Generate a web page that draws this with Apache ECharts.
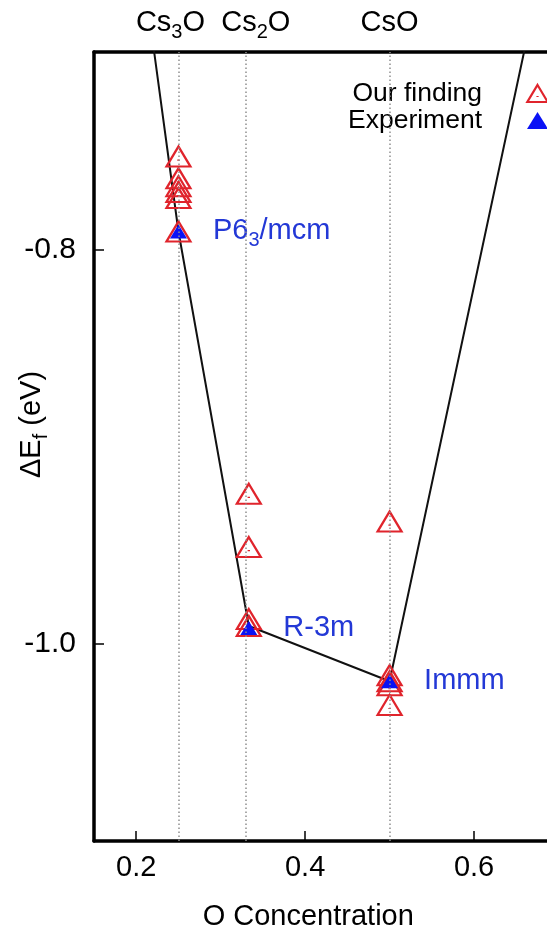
<!DOCTYPE html>
<html>
<head>
<meta charset="utf-8">
<script src="https://cdn.jsdelivr.net/npm/echarts@6/dist/echarts.min.js"></script>
<style>
  html, body { margin: 0; padding: 0; background: #ffffff; }
  #chart { width: 547px; height: 928px; }
</style>
</head>
<body>
<div id="chart"></div>
<script>
// Formation energies (eV/atom) of Cs–O structures versus oxygen concentration
const findingX = [0.25, 0.25, 0.25, 0.25, 0.25, 0.25,
                  0.3333, 0.3333, 0.3333, 0.3333,
                  0.5, 0.5, 0.5, 0.5, 0.5];
const findingY = [-0.753, -0.764, -0.768, -0.771, -0.774, -0.791,
                  -0.924, -0.951, -0.9875, -0.991,
                  -0.938, -1.016, -1.019, -1.021, -1.031];
const experimentX = [0.25, 0.3333, 0.5];
const experimentY = [-0.791, -0.992, -1.019];
const experimentLabels = ['P6{s|3}/mcm', 'R-3m', 'Immm'];
// Convex hull vertices
const hullX = [0, 0.25, 0.3333, 0.5, 0.6667];
const hullY = [0, -0.791, -0.991, -1.019, -0.685];
// Reference compounds marked on the top axis
const compoundX = [0.25, 0.3333, 0.5];
const compoundLabels = ['Cs{s|3}O', 'Cs{s|2}O', 'CsO'];
const xTicks = [0.2, 0.4, 0.6];
const yTicks = [-1.0, -0.8];

const FONT = 'Liberation Sans, Arial, Helvetica, sans-serif';
const RED = '#e0242c';
const BLUE = '#0a12f5';
const LABEL_BLUE = '#2338d6';
const AXIS_W = 3.5;

const zip = (xs, ys) => xs.map((x, i) => [x, ys[i]]);

// open triangle with a small centre dot
const openTriangle = 'path://M12,0L24,20L0,20Z M12,13L12,14.2';

const subRich = {
  s: { fontSize: 20, lineHeight: 20, padding: [18, 0, 0, 0], fontFamily: FONT },
  g: { width: 16 },
  h: { width: 14 }
};

function nearestIndex(arr, v) {
  let best = 0;
  arr.forEach((a, i) => { if (Math.abs(a - v) < Math.abs(arr[best] - v)) best = i; });
  return best;
}

// top axis carrying compound names; the close-lying names sit on two
// overlaid axes so neither gets dropped for overlapping its neighbour
function compoundAxis(values, showLine) {
  return {
    type: 'value', position: 'top', min: 0.15, max: 0.7,
    axisLine: { show: showLine, onZero: false, lineStyle: { color: '#000', width: AXIS_W } },
    axisTick: { show: false },
    axisLabel: {
      customValues: values, margin: 10, fontSize: 29, lineHeight: 38, color: '#000', fontFamily: FONT,
      showMinLabel: true, showMaxLabel: true, hideOverlap: false,
      rich: subRich,
      formatter: v => {
        const i = nearestIndex(compoundX, v);
        const t = compoundLabels[i];
        if (i === 0) return t + '{g|}';
        if (i === 1) return '{h|}' + t;
        return t;
      }
    },
    splitLine: { show: false }
  };
}

const chart = echarts.init(document.getElementById('chart'), null, { renderer: 'canvas' });

chart.setOption({
  animation: false,
  backgroundColor: '#ffffff',
  textStyle: { fontFamily: FONT, color: '#000' },
  grid: {
    left: 94, top: 52, bottom: 87, right: -11.5,
    containLabel: false,
    outerBoundsMode: 'none'
  },
  legend: {
    orient: 'vertical',
    left: 343,
    top: 75,
    align: 'right',
    itemWidth: 21,
    itemHeight: 17,
    itemGap: 0,
    selectedMode: false,
    textStyle: { fontSize: 26.5, lineHeight: 26, fontFamily: FONT, color: '#000', padding: [0, 40, 0, 0] },
    data: [
      { name: 'Our finding', icon: openTriangle,
        itemStyle: { color: 'rgba(0,0,0,0)', borderColor: RED, borderWidth: 2.2 } },
      { name: 'Experiment', icon: 'triangle',
        itemStyle: { color: BLUE, borderWidth: 0 } }
    ]
  },
  xAxis: [
    {
      type: 'value', position: 'bottom', min: 0.15, max: 0.7,
      name: 'O Concentration', nameLocation: 'middle', nameGap: 57, nameMoveOverlap: false,
      nameTextStyle: { fontSize: 29, lineHeight: 38, fontFamily: FONT, color: '#000', padding: [0, 36, 0, 0] },
      axisLine: { show: true, onZero: false, lineStyle: { color: '#000', width: AXIS_W } },
      axisTick: { show: true, inside: true, length: 10, customValues: xTicks, lineStyle: { color: '#000', width: 1.5 } },
      axisLabel: { customValues: xTicks, margin: 8, fontSize: 29, lineHeight: 38, color: '#000', fontFamily: FONT,
                   showMinLabel: true, showMaxLabel: true, hideOverlap: false,
                   formatter: v => v.toFixed(1) },
      splitLine: { show: false }
    },
    compoundAxis([compoundX[0]], true),
    compoundAxis(compoundX.slice(1), false)
  ],
  yAxis: [
    {
      type: 'value', position: 'left', min: -1.1, max: -0.7,
      name: 'ΔE{s|f} (eV)', nameLocation: 'middle', nameGap: 43, nameRotate: 90, nameMoveOverlap: false,
      nameTextStyle: { fontSize: 29, lineHeight: 38, fontFamily: FONT, color: '#000',
                       padding: [0, 0, 0, 44], rich: subRich },
      axisLine: { show: true, onZero: false, lineStyle: { color: '#000', width: AXIS_W } },
      axisTick: { show: true, inside: true, length: 10, customValues: yTicks, lineStyle: { color: '#000', width: 1.5 } },
      axisLabel: { customValues: yTicks, margin: 18, fontSize: 30, color: '#000', fontFamily: FONT,
                   showMinLabel: true, showMaxLabel: true,
                   formatter: v => v.toFixed(1) },
      splitLine: { show: false }
    },
    {
      type: 'value', position: 'right', min: -1.1, max: -0.7,
      axisLine: { show: true, onZero: false, lineStyle: { color: '#000', width: AXIS_W } },
      axisTick: { show: false },
      axisLabel: { show: false },
      splitLine: { show: false }
    }
  ],
  series: [
    {
      name: 'hull',
      type: 'line',
      xAxisIndex: 0, yAxisIndex: 0,
      data: zip(hullX, hullY),
      symbol: 'none',
      clip: true,
      z: 2,
      lineStyle: { color: '#111', width: 2 },
      markLine: {
        silent: true,
        symbol: ['none', 'none'],
        label: { show: false },
        lineStyle: { color: '#8f8f8f', width: 1.5, type: [1.5, 2.5] },
        data: compoundX.map(x => ({ xAxis: x }))
      }
    },
    {
      name: 'Our finding',
      type: 'scatter',
      xAxisIndex: 0, yAxisIndex: 0,
      data: zip(findingX, findingY),
      symbol: openTriangle,
      symbolSize: [24, 20],
      z: 3,
      itemStyle: { color: 'rgba(0,0,0,0)', borderColor: RED, borderWidth: 2.2, opacity: 1 }
    },
    {
      name: 'Experiment',
      type: 'scatter',
      xAxisIndex: 0, yAxisIndex: 0,
      data: zip(experimentX, experimentY),
      symbol: 'triangle',
      symbolSize: [17, 14],
      z: 4,
      itemStyle: { color: BLUE, opacity: 1 },
      label: {
        show: true,
        position: 'right',
        distance: 26,
        color: LABEL_BLUE,
        fontSize: 29,
        lineHeight: 38,
        fontFamily: FONT,
        rich: { s: { fontSize: 20, lineHeight: 20, padding: [18, 0, 0, 0], color: LABEL_BLUE, fontFamily: FONT } },
        formatter: p => experimentLabels[p.dataIndex]
      }
    }
  ]
});
</script>
</body>
</html>
